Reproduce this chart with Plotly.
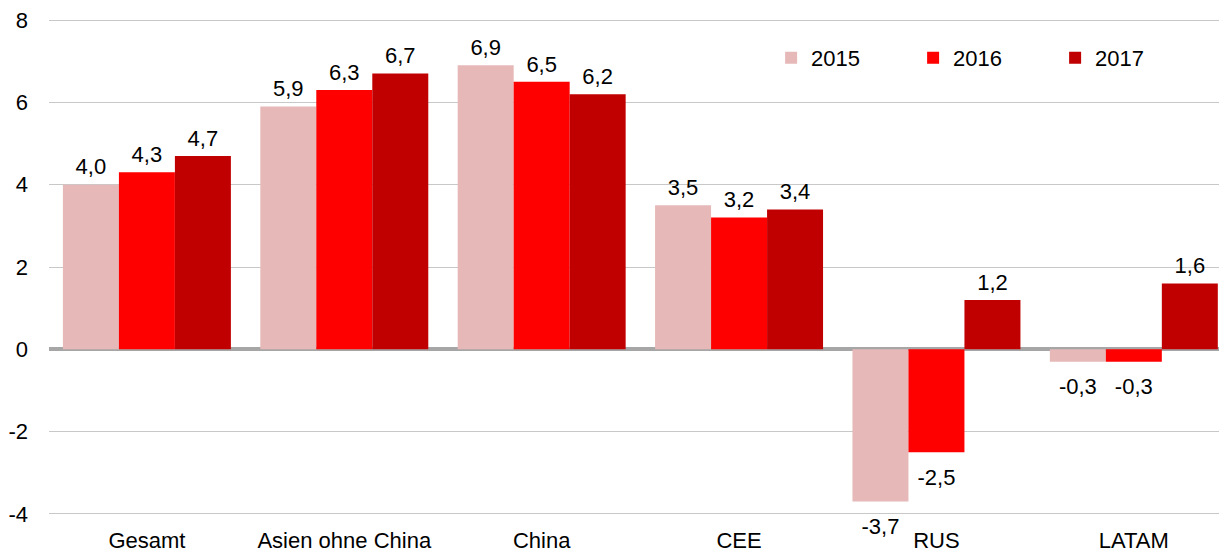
import plotly.graph_objects as go

categories = ["Gesamt", "Asien ohne China", "China", "CEE", "RUS", "LATAM"]
series_names = ["2015", "2016", "2017"]
v2015 = [4.0, 5.9, 6.9, 3.5, -3.7, -0.3]
v2016 = [4.3, 6.3, 6.5, 3.2, -2.5, -0.3]
v2017 = [4.7, 6.7, 6.2, 3.4, 1.2, 1.6]
colors = ["#e6b9b8", "#ff0000", "#c00000"]
y_ticks = [-4, -2, 0, 2, 4, 6, 8]

FONT = "Liberation Sans, Arial"
FS = 22
GAP = 0.149

def fmt(v):
    return f"{v:.1f}".replace(".", ",")

fig = go.Figure()
for name, vals, col in zip(series_names, [v2015, v2016, v2017], colors):
    fig.add_trace(go.Bar(
        x=categories, y=vals, name=name, marker_color=col,
        marker_line_width=0, offsetgroup=name,
    ))
for name, vals in zip(series_names, [v2015, v2016, v2017]):
    fig.add_trace(go.Scatter(
        x=categories, y=vals, mode="markers+text", showlegend=False,
        offsetgroup=name,
        marker=dict(size=[6 if v >= 0 else 24 for v in vals], color="rgba(0,0,0,0)",
                    line=dict(width=0, color="rgba(0,0,0,0)")),
        text=[fmt(v) for v in vals],
        textposition=["top center" if v >= 0 else "bottom center" for v in vals],
        textfont=dict(size=FS, color="#000000", family=FONT),
        cliponaxis=False, hoverinfo="skip",
    ))

# page body has an 8px margin; the figure is sized to end at the window edge
fig.update_layout(
    width=1219, height=544,
    margin=dict(l=41, r=0, t=10, b=36),
    paper_bgcolor="white", plot_bgcolor="white",
    barmode="group", bargap=GAP, bargroupgap=0,
    scattermode="group", scattergap=GAP,
    font=dict(family=FONT, size=FS, color="#000000"),
    showlegend=True,
    legend=dict(orientation="h", x=0.613, y=0.92, xanchor="left", yanchor="middle",
                entrywidth=97, entrywidthmode="pixels",
                font=dict(size=FS, family=FONT), bgcolor="rgba(0,0,0,0)", itemwidth=30),
)
fig.update_xaxes(showgrid=False, showline=False, ticks="", tickfont=dict(size=FS),
                 automargin=False, ticklabelstandoff=9, range=[-0.496, 5.472])
fig.update_yaxes(range=[-4.05, 8.05], tickvals=y_ticks, ticktext=[str(t) for t in y_ticks],
                 showgrid=True, gridcolor="#c8c8c8", gridwidth=1,
                 zeroline=True, zerolinecolor="#a6a6a6", zerolinewidth=4,
                 showline=False, ticks="", tickfont=dict(size=FS), ticklabelstandoff=20,
                 automargin=False, ticklabeloverflow="allow")

fig.write_html("out.html")
